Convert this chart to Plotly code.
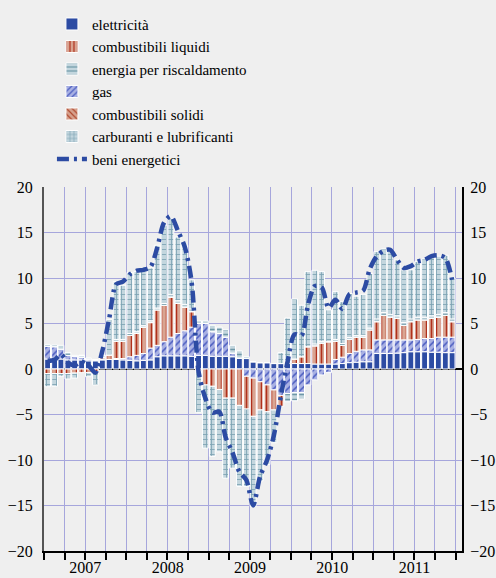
import plotly.graph_objects as go

# ---- data (monthly, Jan 2007 - Dec 2011) ----
years = [2007, 2008, 2009, 2010, 2011]
months = [f"{y}-{m:02d}-16" for y in years for m in range(1, 13)]

elettricita = [1.1, 1.1, 1.1, 1.0, 1.0, 1.0, 0.9, 0.9, 1.0, 1.05, 1.05, 1.0,
               0.95, 0.9, 0.95, 1.0, 1.35, 1.45, 1.45, 1.45, 1.45, 1.4, 1.5, 1.5,
               1.4, 1.4, 1.4, 1.35, 1.2, 1.15, 0.8, 0.7, 0.7, 0.6, 0.6, 0.6,
               0.6, 0.6, 0.6, 0.55, 0.55, 0.55, 0.55, 0.6, 0.7, 0.75, 0.8, 0.8,
               1.7, 1.7, 1.7, 1.75, 1.8, 1.9, 1.9, 1.9, 1.85, 1.85, 1.8, 1.8]

gas = [1.4, 1.35, 1.1, 0.5, 0.4, 0.3, 0.2, 0.1, 0.1, 0.0, 0.1, 0.15,
       0.4, 0.6, 0.75, 1.3, 1.25, 1.55, 2.05, 2.45, 2.75, 3.2, 3.5, 3.5,
       2.7, 2.5, 2.1, 0.4, 0.0, -0.8, -1.0, -1.4, -1.75, -2.3, -2.9, -2.7,
       -2.6, -2.6, -1.75, -1.2, -0.65, -0.4, 0.5, 0.7, 1.0, 1.2, 1.3, 1.3,
       1.5, 1.5, 1.5, 1.45, 1.4, 1.3, 1.35, 1.45, 1.5, 1.65, 1.7, 1.7]

combustibili_liquidi = [-0.5, -0.5, -0.5, -0.5, -0.45, -0.4, -0.4, -0.3, 0.2, 0.5, 1.9, 1.9,
                        2.35, 2.4, 2.9, 2.8, 3.9, 4.0, 4.4, 3.3, 2.6, 1.7, -0.2, -1.75,
                        -1.9, -2.25, -3.2, -3.2, -4.0, -3.6, -4.2, -3.1, -2.95, -2.2, -1.2, 0.3,
                        0.5, 0.75, 1.85, 2.0, 2.3, 2.45, 2.0, 1.3, 1.55, 1.55, 1.4, 2.2,
                        2.0, 2.7, 2.5, 2.35, 1.6, 2.0, 2.15, 2.05, 2.2, 2.2, 2.4, 1.7]

combustibili_solidi = [0.0, 0.0, 0.0, 0.0, 0.0, 0.0, 0.0, 0.0, 0.0, 0.0, 0.0, 0.0,
                       0.0, 0.0, 0.0, 0.0, 0.0, 0.0, 0.0, 0.0, 0.0, 0.0, 0.0, 0.0,
                       0.0, 0.0, 0.0, 0.0, 0.0, 0.0, 0.0, 0.0, 0.0, 0.0, 0.0, 0.0,
                       0.0, 0.0, 0.0, 0.0, 0.0, 0.0, 0.0, 0.0, 0.0, 0.0, 0.0, 0.0,
                       0.0, 0.0, 0.0, 0.0, 0.0, 0.0, 0.0, 0.0, 0.0, 0.0, 0.0, 0.0]

energia_riscaldamento = [0.2, 0.2, 0.4, 0.3, 0.1, 0.2, 0.1, 0.0, 0.2, 0.0, 0.2, 0.2,
                         0.2, 0.2, 0.2, 0.2, 0.2, 0.2, 0.3, 0.3, 0.3, 0.3, 0.3, 0.3,
                         0.7, 0.7, 0.85, 0.85, 0.8, 0.2, 0.0, 0.0, 0.0, 0.0, 0.0, -0.9,
                         -0.9, -0.7, 0.0, 0.2, 0.2, 0.0, 0.2, 0.2, 0.2, 0.2, 0.2, 0.2,
                         0.3, 0.3, 0.3, 0.3, 0.3, 0.3, 0.3, 0.3, 0.3, 0.3, 0.3, 0.3]

carburanti = [-1.45, -1.4, -0.3, -0.6, -0.55, 0.0, -0.45, -1.45, 0.0, 3.9, 6.35, 5.95,
              6.7, 6.6, 6.05, 5.8, 6.9, 8.6, 8.3, 7.0, 6.5, 3.2, -4.6, -6.95,
              -7.7, -6.85, -8.8, -7.7, -8.9, -8.5, -9.9, -7.8, -5.8, -3.6, 1.2, 4.7,
              6.6, 5.65, 8.25, 8.1, 7.65, 3.5, 5.25, 4.6, 4.85, 4.3, 4.5, 6.0,
              7.4, 7.0, 7.1, 6.15, 5.8, 5.4, 6.1, 6.4, 6.45, 6.4, 6.3, 4.5]

beni_energetici = [0.9, 1.0, 1.6, 0.7, 0.4, 0.8, 0.4, -0.4, 2.0, 5.5, 9.3, 9.6,
                   10.4, 10.8, 10.9, 11.2, 13.3, 16.1, 16.8, 15.2, 13.4, 9.6, -0.3, -3.2,
                   -4.8, -4.7, -7.5, -9.2, -11.3, -12.2, -15.0, -11.8, -10.0, -7.3, -3.0, 0.8,
                   3.8, 3.7, 7.0, 9.1, 9.0, 6.7, 7.6, 6.6, 8.2, 8.4, 8.6, 11.0,
                   12.4, 13.0, 13.1, 12.0, 11.1, 11.3, 11.8, 12.0, 12.4, 12.5, 12.2, 9.8]

y_ticks = [-20, -15, -10, -5, 0, 5, 10, 15, 20]

# ---- styles ----
FONT = "Liberation Serif"
BLUE = "#2c4ba3"
GRID = "#a6a6dc"
BAR_W = 26 * 24 * 3600 * 1000  # bar width in ms

series = [
    # name, values, bg colour, pattern shape, fg colour, legend rank
    ("elettricità", elettricita, BLUE, "", BLUE, 1),
    ("gas", gas, "#a9b1e3", "/", "#4a5cc0", 4),
    ("combustibili liquidi", combustibili_liquidi, "#d9a592", "|", "#b0301c", 2),
    ("combustibili solidi", combustibili_solidi, "#d6a08c", "\\", "#b04a30", 5),
    ("energia per riscaldamento", energia_riscaldamento, "#c3d6de", "-", "#6e98a8", 3),
    ("carburanti e lubrificanti", carburanti, "#c3d6de", "+", "#7aa2b2", 6),
]

fig = go.Figure()
for name, vals, bg, shape, fg, rank in series:
    fig.add_trace(go.Bar(
        x=months, y=vals, name=name, width=BAR_W, legendrank=rank,
        marker=dict(color=bg,
                    line=dict(color="white", width=1),
                    pattern=dict(shape=shape, bgcolor=bg, fgcolor=fg,
                                 size=5, solidity=0.3, fillmode="replace")),
    ))

fig.add_trace(go.Scatter(
    x=months, y=beni_energetici, name="beni energetici", mode="lines",
    legendrank=7,
    line=dict(color=BLUE, width=4.5, dash="12px,5px,3px,5px",
              shape="spline", smoothing=0.8),
))

# invisible helper trace for the secondary (year labels / right) axes
fig.add_trace(go.Scatter(x=[months[0]], y=[0], xaxis="x2", yaxis="y2",
                         mode="markers", marker=dict(opacity=0),
                         showlegend=False, hoverinfo="skip"))

xr = ["2006-12-31", "2012-01-29"]
fig.update_layout(
    width=496, height=578,
    margin=dict(l=44, r=34, t=187, b=27, autoexpand=False),
    paper_bgcolor="#efefef", plot_bgcolor="#efefef",
    barmode="relative",
    font=dict(family=FONT, size=16, color="black"),
    showlegend=True,
    legend=dict(x=0.019, y=1.4925, xanchor="left", yanchor="top",
                traceorder="normal", bgcolor="rgba(0,0,0,0)",
                font=dict(family=FONT, size=15, color="black"),
                tracegroupgap=0),
    xaxis=dict(type="date", range=xr, dtick="M3", tick0="2007-01-01",
               showgrid=True, gridcolor=GRID, gridwidth=1,
               showticklabels=False, ticks="outside", ticklen=7,
               tickcolor="black", tickwidth=1.5,
               showline=True, linecolor="black", linewidth=1.5,
               zeroline=False, automargin=False),
    xaxis2=dict(type="date", range=xr, overlaying="x", side="bottom",
                dtick="M12", tick0="2007-01-01", tickformat="%Y",
                ticklabelmode="period", showgrid=False, ticks="",
                showline=False, zeroline=False, ticklabelstandoff=5,
                automargin=False,
                tickfont=dict(family=FONT, size=16, color="black")),
    yaxis=dict(range=[-20, 20], tickvals=y_ticks, showgrid=True,
               gridcolor=GRID, gridwidth=1, zeroline=True,
               zerolinecolor="black", zerolinewidth=1.5,
               showline=True, linecolor="#555555", linewidth=2,
               ticks="", ticklabelstandoff=6, automargin=False,
               tickfont=dict(family=FONT, size=16, color="black")),
    yaxis2=dict(range=[-20, 20], tickvals=y_ticks, overlaying="y",
                side="right", anchor="x2", showgrid=False, zeroline=False,
                showline=True, linecolor="black", linewidth=2,
                ticks="", ticklabelstandoff=3, automargin=False,
                tickfont=dict(family=FONT, size=16, color="black")),
)

fig.write_html(
    "out.html",
    config={"displayModeBar": False},
    post_script="document.body.style.margin='0';"
                "document.body.style.background='#efefef';",
)
